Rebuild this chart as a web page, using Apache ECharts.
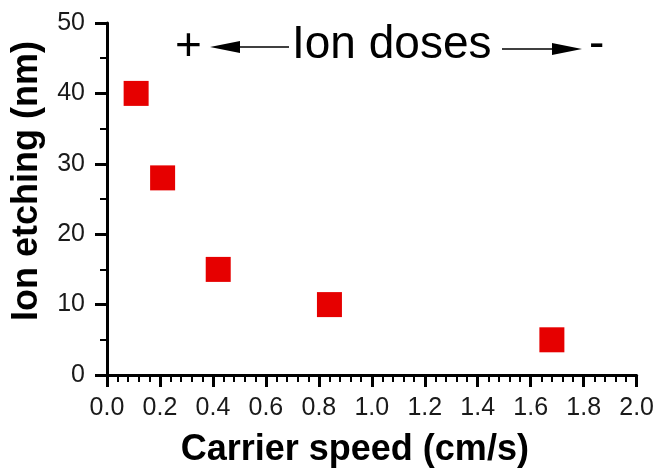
<!DOCTYPE html>
<html>
<head>
<meta charset="utf-8">
<style>
  html, body { margin: 0; padding: 0; background: #fff; }
  #chart { width: 657px; height: 473px; }
</style>
<script src="https://cdn.jsdelivr.net/npm/echarts@6/dist/echarts.min.js"></script>
</head>
<body>
<div id="chart"></div>
<script>
// carrier speed (cm/s) vs ion etching depth (nm)
const speeds = [0.11, 0.21, 0.42, 0.84, 1.68];
const etching = [40, 28, 15, 10, 5];

const FONT = '"Liberation Sans", Arial, sans-serif';

const chart = echarts.init(document.getElementById('chart'));

chart.setOption({
    animation: false,
    grid: {left: 107, right: 19, top: 23, bottom: 95},
    xAxis: {
        type: 'value',
        min: 0, max: 2, interval: 0.2,
        axisLine: {show: true, lineStyle: {color: '#000', width: 3}},
        axisTick: {show: true, length: 12, lineStyle: {color: '#000', width: 3}},
        minorTick: {show: true, splitNumber: 5, length: 7, lineStyle: {color: '#000', width: 2}},
        splitLine: {show: false},
        axisLabel: {
            color: '#1a1a1a', fontFamily: FONT, fontSize: 25, margin: 21,
            formatter: v => v.toFixed(1)
        },
        name: 'Carrier speed (cm/s)',
        nameLocation: 'middle',
        nameGap: 57,
        nameTextStyle: {color: '#000', fontFamily: FONT, fontSize: 36, fontWeight: 'bold', padding: [0, 34, 0, 0]}
    },
    yAxis: {
        type: 'value',
        min: 0, max: 50, interval: 10,
        axisLine: {show: true, lineStyle: {color: '#000', width: 3}},
        axisTick: {show: true, length: 12, lineStyle: {color: '#000', width: 3}},
        minorTick: {show: true, splitNumber: 2, length: 7, lineStyle: {color: '#000', width: 2}},
        splitLine: {show: false},
        axisLabel: {color: '#1a1a1a', fontFamily: FONT, fontSize: 25, margin: 22},
        name: 'Ion etching (nm)',
        nameLocation: 'middle',
        nameGap: 62,
        nameTextStyle: {color: '#000', fontFamily: FONT, fontSize: 36, fontWeight: 'bold', padding: [0, 0, 0, 36]}
    },
    series: [{
        type: 'scatter',
        symbol: 'rect',
        symbolSize: 25,
        itemStyle: {color: '#e60000', opacity: 1},
        data: speeds.map((s, i) => [s, etching[i]])
    }],
    graphic: [
        {type: 'text', left: 175, top: 24, style: {text: '+', font: '46px ' + FONT, fill: '#000'}},
        {type: 'polygon', shape: {points: [[210, 47], [240, 41], [240, 53]]}, style: {fill: '#000'}},
        {type: 'line', shape: {x1: 238, y1: 47, x2: 289, y2: 47}, style: {stroke: '#000', lineWidth: 1.5}},
        {type: 'text', left: 292, top: 22, style: {text: 'Ion doses', font: '46px ' + FONT, fill: '#000'}},
        {type: 'line', shape: {x1: 502, y1: 49, x2: 555, y2: 49}, style: {stroke: '#000', lineWidth: 1.5}},
        {type: 'polygon', shape: {points: [[582, 49], [552, 43], [552, 55]]}, style: {fill: '#000'}},
        {type: 'text', left: 589, top: 22, style: {text: '-', font: '46px ' + FONT, fill: '#000'}}
    ]
});
</script>
</body>
</html>
